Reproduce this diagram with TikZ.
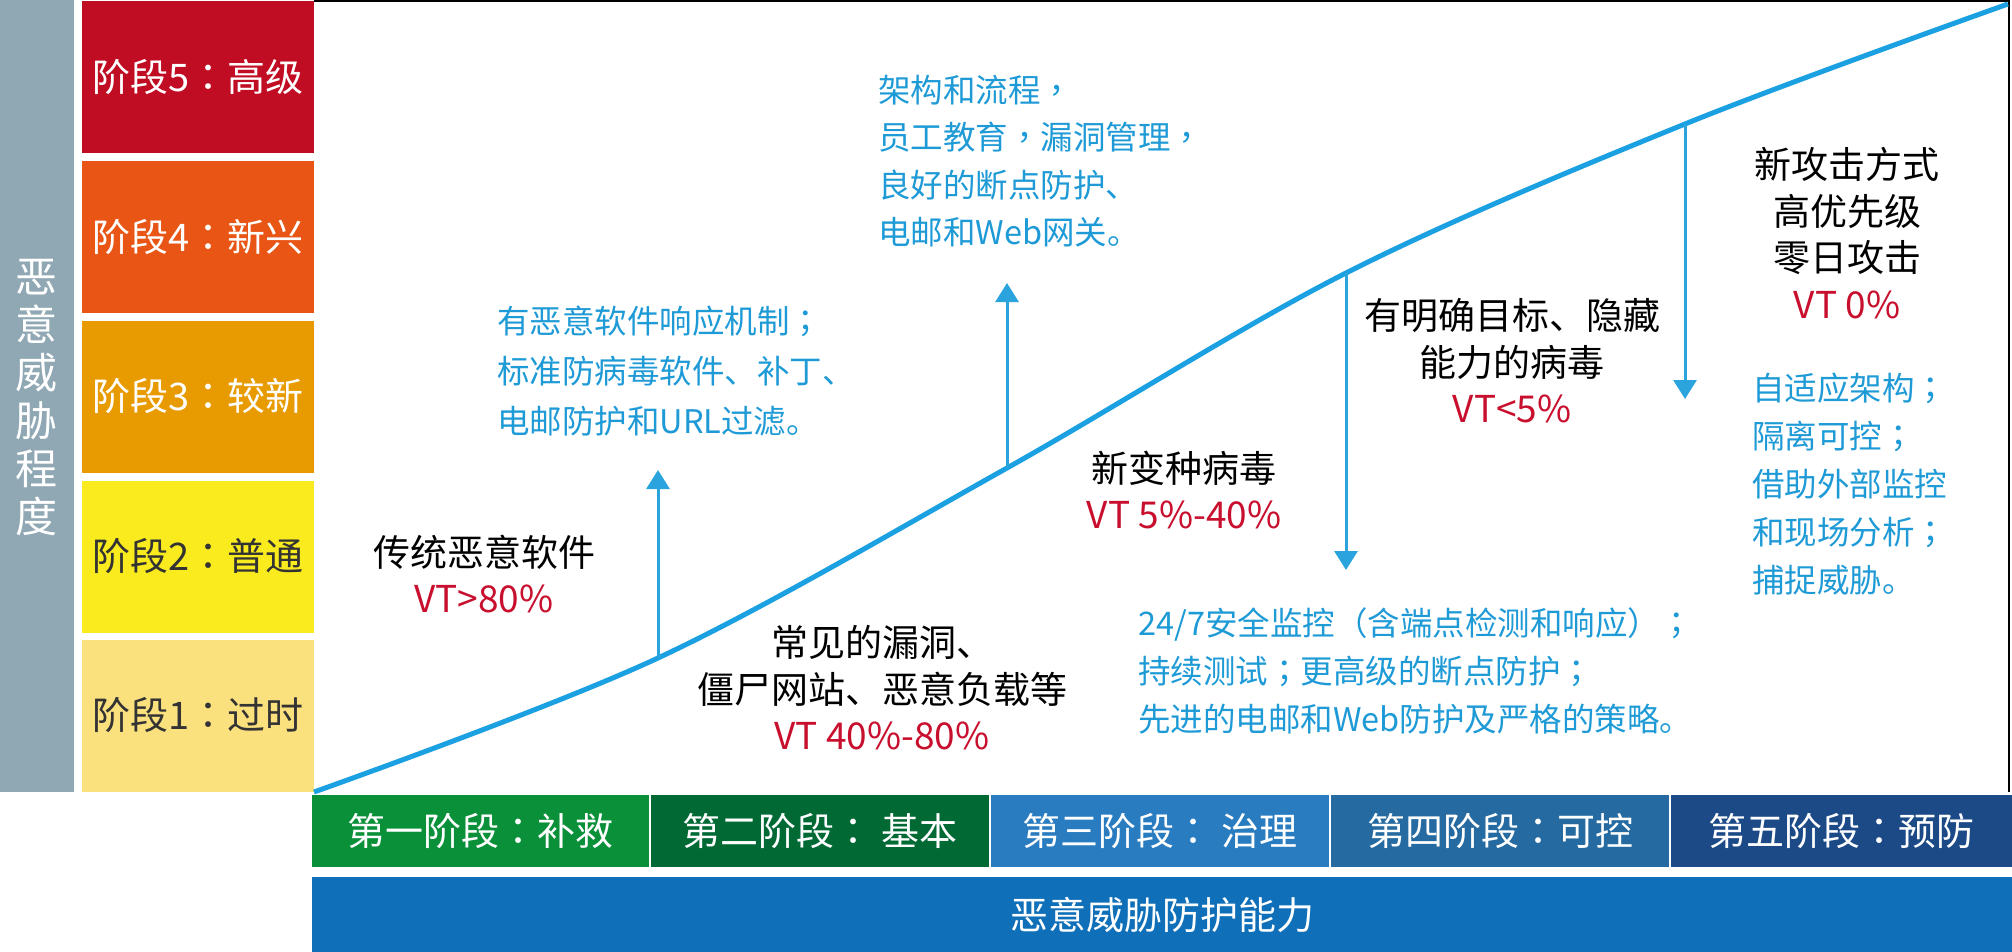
\documentclass[tikz,border=0pt]{standalone}
\usepackage{fontspec}
\setmainfont{Noto Sans CJK SC}
\newfontfamily\tcfont{Noto Sans CJK TC}
\newcommand\qcolon{{\tcfont ：}}
\newcommand\qsemi{{\tcfont ；}}
\newcommand\qcomma{{\tcfont ，}}
\usetikzlibrary{arrows.meta}
\definecolor{greybar}{RGB}{144,168,180}
\definecolor{lvfive}{RGB}{192,13,35}
\definecolor{lvfour}{RGB}{232,85,21}
\definecolor{lvthree}{RGB}{232,155,0}
\definecolor{lvtwo}{RGB}{250,235,30}
\definecolor{lvone}{RGB}{251,224,126}
\definecolor{darktxt}{RGB}{51,51,51}
\definecolor{phone}{RGB}{10,144,56}
\definecolor{phtwo}{RGB}{0,105,52}
\definecolor{phthree}{RGB}{42,124,192}
\definecolor{phfour}{RGB}{37,106,160}
\definecolor{phfive}{RGB}{28,74,135}
\definecolor{capbar}{RGB}{15,111,184}
\definecolor{curveblue}{RGB}{27,160,226}
\definecolor{arrowblue}{RGB}{43,164,222}
\definecolor{bluetxt}{RGB}{30,154,214}
\definecolor{redtxt}{RGB}{200,16,46}
\begin{document}
\begin{tikzpicture}[x=1pt,y=-1pt,
  stagebox/.style={inner sep=0pt, outer sep=0pt, minimum width=232pt, minimum height=152pt,
    font=\fontsize{38pt}{42pt}\selectfont},
  phasebox/.style={inner sep=0pt, outer sep=0pt, minimum height=72pt, text=white,
    font=\fontsize{38pt}{42pt}\selectfont},
  blacktxt/.style={inner sep=0pt, align=center, text=black,
    font=\fontsize{37pt}{46.5pt}\selectfont},
  bluenote/.style={inner sep=0pt, align=left, text=bluetxt, anchor=west,
    font=\fontsize{32.5pt}{48pt}\selectfont},
  uparrow/.style={draw=arrowblue, line width=3pt, -{Triangle[width=23pt,length=19pt]}},
]
\useasboundingbox (0,0) rectangle (2012,952);
% left grey bar
\node[fill=greybar, inner sep=0pt, minimum width=74pt, minimum height=792pt, anchor=north west] (gbar) at (0,0) {};
\node[text=white, align=center, inner sep=0pt, font=\fontsize{42pt}{48pt}\selectfont] (gtxt) at (37,398) {恶\\意\\威\\胁\\程\\度};
% stage boxes
\node[stagebox, fill=lvfive, text=white] (s5) at (198,77.5) {阶段5\qcolon 高级};
\node[stagebox, fill=lvfour, text=white] (s4) at (198,237) {阶段4\qcolon 新兴};
\node[stagebox, fill=lvthree, text=white] (s3) at (198,396.5) {阶段3\qcolon 较新};
\node[stagebox, fill=lvtwo, text=darktxt] (s2) at (198,556.5) {阶段2\qcolon 普通};
\node[stagebox, fill=lvone, text=darktxt] (s1) at (198,715.5) {阶段1\qcolon 过时};
% chart frame
\draw[black, line width=2pt] (314,1) -- (2009,1) -- (2009,792);
% curve
\coordinate (p0) at (314,792);
\coordinate (p1) at (658,658);
\coordinate (p2) at (1007,468);
\coordinate (p3) at (1346,273);
\coordinate (p4) at (1685,124);
\coordinate (p5) at (2008,4);
\draw[curveblue, line width=5pt] plot[smooth, tension=0.55] coordinates {(p0) (p1) (p2) (p3) (p4) (p5)};
% arrows
\coordinate (a1) at (658,470);
\coordinate (a2) at (1007,283);
\coordinate (a3) at (1346,570);
\coordinate (a4) at (1685,399);
\draw[uparrow] (p1) -- (a1);
\draw[uparrow] (p2) -- (a2);
\draw[uparrow] (p3) -- (a3);
\draw[uparrow] (p4) -- (a4);
% black labels
\node[blacktxt] (t1) at (484,574) {传统恶意软件\\\textcolor{redtxt}{VT>80\%}};
\node[blacktxt] (t2) at (882,688) {常见的漏洞、\\僵尸网站、恶意负载等\\\textcolor{redtxt}{VT 40\%-80\%}};
\node[blacktxt] (t3) at (1184,490) {新变种病毒\\\textcolor{redtxt}{VT 5\%-40\%}};
\node[blacktxt] (t4) at (1512,361) {有明确目标、隐藏\\能力的病毒\\\textcolor{redtxt}{VT<5\%}};
\node[blacktxt] (t5) at (1847,233) {新攻击方式\\高优先级\\零日攻击\\\textcolor{redtxt}{VT 0\%}};
% blue notes
\node[bluenote, font=\fontsize{32.5pt}{50pt}\selectfont] (n1) at (497,371) {有恶意软件响应机制\qsemi\\标准防病毒软件、补丁、\\电邮防护和URL过滤。};
\node[bluenote, font=\fontsize{32.5pt}{47.3pt}\selectfont] (n2) at (878,161) {架构和流程\qcomma\\员工教育\qcomma 漏洞管理\qcomma\\良好的断点防护、\\电邮和Web网关。};
\node[bluenote] (n3) at (1138,671) {24/7安全监控（含端点检测和响应）\qsemi\\持续测试\qsemi 更高级的断点防护\qsemi\\先进的电邮和Web防护及严格的策略。};
\node[bluenote] (n4) at (1752,484) {自适应架构\qsemi\\隔离可控\qsemi\\借助外部监控\\和现场分析\qsemi\\捕捉威胁。};
% phase boxes
\node[phasebox, fill=phone, minimum width=337pt] (ph1) at (480.5,831) {第一阶段\qcolon 补救};
\node[phasebox, fill=phtwo, minimum width=338pt] (ph2) at (820,831) {第二阶段\qcolon\ 基本};
\node[phasebox, fill=phthree, minimum width=338pt] (ph3) at (1160,831) {第三阶段\qcolon\ 治理};
\node[phasebox, fill=phfour, minimum width=338pt] (ph4) at (1500,831) {第四阶段\qcolon 可控};
\node[phasebox, fill=phfive, minimum width=341pt] (ph5) at (1841.5,831) {第五阶段\qcolon 预防};
% bottom caption bar
\node[fill=capbar, text=white, inner sep=0pt, minimum width=1700pt, minimum height=75pt,
  font=\fontsize{38pt}{42pt}\selectfont] (cap) at (1162,914.5) {恶意威胁防护能力};
\end{tikzpicture}
\end{document}
